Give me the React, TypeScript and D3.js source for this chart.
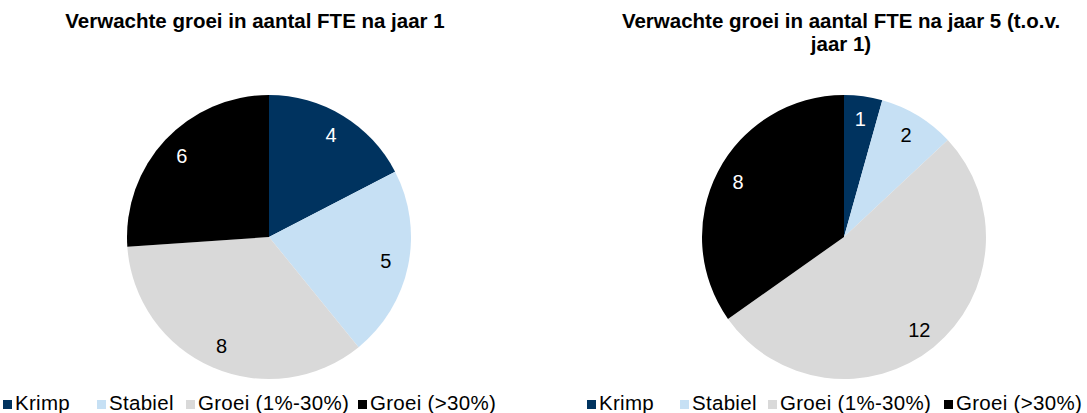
import React from "react";
import * as d3 from "d3";

const categories = ["Krimp", "Stabiel", "Groei (1%-30%)", "Groei (>30%)"];
const colors = ["#00335f", "#c6e0f4", "#d9d9d9", "#000000"];
const labelColors = ["#ffffff", "#000000", "#000000", "#ffffff"];
const jaar1Values = [4, 5, 8, 6];
const jaar5Values = [1, 2, 12, 8];
const title1Lines = ["Verwachte groei in aantal FTE na jaar 1"];
const title2Lines = ["Verwachte groei in aantal FTE na jaar 5 (t.o.v.", "jaar 1)"];

const W = 1087;
const H = 413;
const FONT = "'Liberation Sans', Arial, sans-serif";

type PieProps = {
  values: number[];
  cx: number;
  cy: number;
  r: number;
  titleLines: string[];
  titleX: number;
  legendX: number[];
};

function Pie({ values, cx, cy, r, titleLines, titleX, legendX }: PieProps) {
  const pie = d3.pie<number>().sort(null).value((d) => d);
  const arcs = pie(values);
  const arc = d3.arc<d3.PieArcDatum<number>>().innerRadius(0).outerRadius(r);
  const labelArc = d3
    .arc<d3.PieArcDatum<number>>()
    .innerRadius(r * 0.84)
    .outerRadius(r * 0.84);
  return (
    <g>
      {titleLines.map((t, i) => (
        <text
          key={i}
          x={titleX}
          y={28 + i * 23}
          textAnchor="middle"
          fontFamily={FONT}
          fontWeight="bold"
          fontSize={20.5}
          fill="#000"
        >
          {t}
        </text>
      ))}
      <g transform={`translate(${cx},${cy})`}>
        {arcs.map((a, i) => (
          <path key={i} d={arc(a) || ""} fill={colors[i]} />
        ))}
        {arcs.map((a, i) => {
          const [lx, ly] = labelArc.centroid(a);
          return (
            <text
              key={i}
              x={lx}
              y={ly}
              dy="0.35em"
              textAnchor="middle"
              fontFamily={FONT}
              fontSize={20}
              fill={labelColors[i]}
            >
              {values[i]}
            </text>
          );
        })}
      </g>
      {categories.map((c, i) => (
        <g key={c} transform={`translate(${legendX[i]},0)`}>
          <rect x={0} y={400} width={9} height={9} fill={colors[i]} />
          <text
            x={12}
            y={410}
            fontFamily={FONT}
            fontSize={20.5}
            letterSpacing={0.3}
            fill="#000"
          >
            {c}
          </text>
        </g>
      ))}
    </g>
  );
}

export default function App() {
  return (
    <svg
      width={W}
      height={H}
      style={{ position: "absolute", left: 0, top: 0, background: "#fff" }}
    >
      <rect width={W} height={H} fill="#fff" />
      <Pie
        values={jaar1Values}
        cx={269}
        cy={237}
        r={142}
        titleLines={title1Lines}
        titleX={255}
        legendX={[3, 97, 186, 358]}
      />
      <Pie
        values={jaar5Values}
        cx={844}
        cy={237}
        r={142}
        titleLines={title2Lines}
        titleX={841}
        legendX={[587, 680, 768, 944]}
      />
    </svg>
  );
}
